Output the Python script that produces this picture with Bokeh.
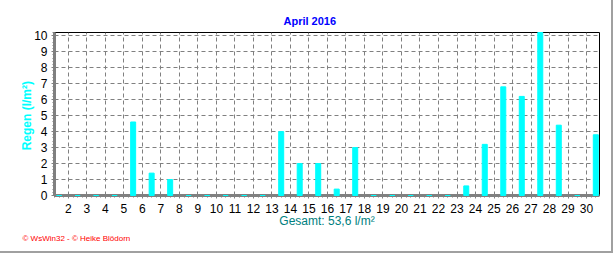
from bokeh.plotting import figure
from bokeh.models import ColumnDataSource, Title, FixedTicker, Range1d
from bokeh.embed import file_html
from bokeh.resources import INLINE

days = list(range(1, 31))
rain = [0, 0, 0, 0, 4.6, 1.4, 1.0, 0, 0, 0,
        0, 0, 4.0, 2.0, 2.0, 0.4, 3.0, 0, 0, 0,
        0, 0, 0.6, 3.2, 6.8, 6.2, 10.2, 4.4, 0, 3.8]
x_ticks = list(range(2, 31))
y_ticks = list(range(0, 11))
title_text = "April 2016"
y_label = "Regen  (l/m²)"
total_text = "Gesamt: 53,6 l/m²"
footer_text = "© WsWin32 - © Heike Blödorn"

src = ColumnDataSource(dict(x=[d + 0.5 for d in days], top=rain))

p = figure(width=613, height=253, output_backend="svg", toolbar_location=None,
           x_range=Range1d(1.25, 30.7), y_range=Range1d(0, 10.2),
           min_border_left=54, min_border_right=14, min_border_top=32,
           min_border_bottom=58)
p.styles = {"border-right": "2px solid #a0a0a0", "border-bottom": "2px solid #a0a0a0"}
p.background_fill_color = "white"
p.border_fill_color = "white"
p.outline_line_color = "black"
p.outline_line_width = 1

p.title = Title(text=title_text, align="left", offset=229, standoff=11,
                text_font="Liberation Sans", text_font_size="11px",
                text_font_style="bold", text_color="#0000ff")

r = p.vbar(x="x", top="top", bottom=0, width=0.27, source=src,
           fill_color="#00ffff", line_color="#00ffff", line_width=1)
r.level = "overlay"

for ax in (p.xaxis[0], p.yaxis[0]):
    ax.axis_line_color = "#808080"
    ax.axis_line_width = 3
    ax.major_tick_line_color = "#808080"
    ax.minor_tick_line_color = "#808080"
    ax.major_tick_out = 3
    ax.major_tick_in = 0
    ax.minor_tick_out = 2
    ax.minor_tick_in = 0
    ax.major_label_text_font = "Liberation Sans"
    ax.major_label_text_font_size = "12px"
    ax.major_label_text_color = "black"

p.xaxis.ticker = FixedTicker(ticks=x_ticks,
                             minor_ticks=[t / 4 for t in range(5, 124)])
p.yaxis.ticker = FixedTicker(ticks=y_ticks,
                             minor_ticks=[t / 5 for t in range(0, 52)])
p.xaxis.major_label_standoff = 5
p.yaxis.major_label_standoff = 4

p.xaxis.axis_label = total_text
p.xaxis.axis_label_text_font = "Liberation Sans"
p.xaxis.axis_label_text_font_size = "12px"
p.xaxis.axis_label_text_font_style = "normal"
p.xaxis.axis_label_text_color = "#008080"
p.xaxis.axis_label_standoff = -2

p.yaxis.axis_label = y_label
p.yaxis.axis_label_text_font = "Liberation Sans"
p.yaxis.axis_label_text_font_size = "12px"
p.yaxis.axis_label_text_font_style = "bold"
p.yaxis.axis_label_text_color = "#00ffff"
p.yaxis.axis_label_standoff = -3

p.xgrid.ticker = FixedTicker(ticks=x_ticks)
p.ygrid.ticker = FixedTicker(ticks=y_ticks)
for g in (p.xgrid[0], p.ygrid[0]):
    g.grid_line_color = "#808080"
    g.grid_line_dash = "4 3"
    g.grid_line_width = 1

p.add_layout(Title(text=footer_text, align="left", offset=-32, standoff=2,
                   text_font="Liberation Sans", text_font_size="8px",
                   text_font_style="normal", text_color="#ff0000"), "below")

open("out.html", "w").write(file_html(p, INLINE))
